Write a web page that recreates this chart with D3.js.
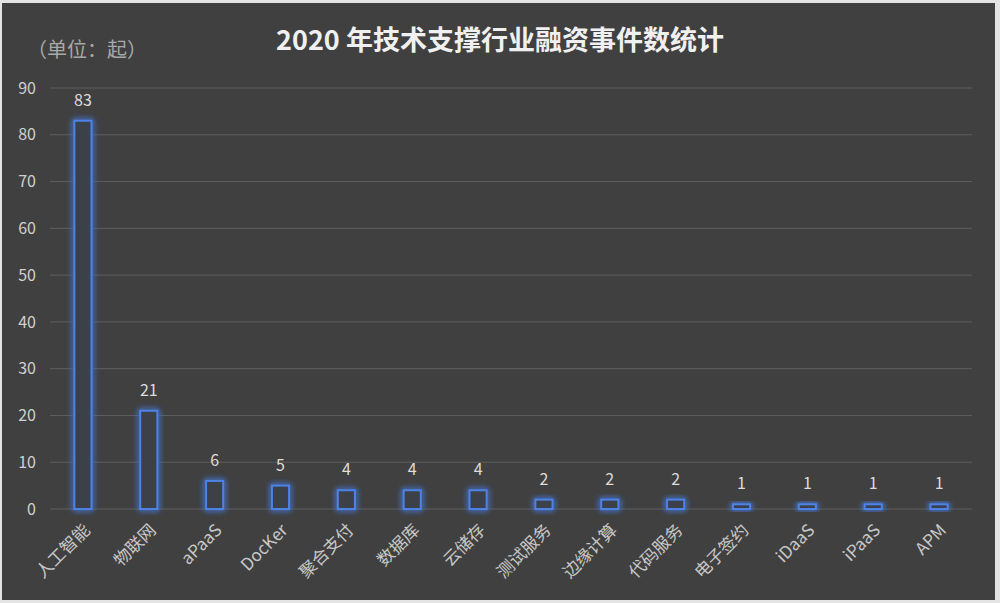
<!DOCTYPE html>
<html>
<head>
<meta charset="utf-8">
<script src="https://cdn.jsdelivr.net/npm/d3@7"></script>
<style>
  body { margin: 0; background: #e6e6e6; }
  svg { display: block; }
</style>
</head>
<body>
<svg id="chart" width="1000" height="603"></svg>
<script>
// data
const categories = ["人工智能", "物联网", "aPaaS", "DocKer", "聚合支付", "数据库", "云储存",
  "测试服务", "边缘计算", "代码服务", "电子签约", "iDaaS", "iPaaS", "APM"];
const counts = [83, 21, 6, 5, 4, 4, 4, 2, 2, 2, 1, 1, 1, 1];
const yTicks = [0, 10, 20, 30, 40, 50, 60, 70, 80, 90];
const title = "2020 年技术支撑行业融资事件数统计";
const unitLabel = "（单位：起）";

const svg = d3.select("#chart");
const width = +svg.attr("width");
const height = +svg.attr("height");
const font = "'Noto Sans CJK SC', 'Noto Sans', sans-serif";

// frame + background
svg.append("rect").attr("width", width).attr("height", height).attr("fill", "#e4e4e4");
svg.append("rect").attr("x", 2).attr("y", 3).attr("width", width - 7).attr("height", height - 6)
  .attr("fill", "#404040");

const margin = { top: 88, right: 28, bottom: 94, left: 50 };
const chartWidth = width - margin.left - margin.right;
const chartHeight = height - margin.top - margin.bottom;

const x = d3.scaleBand().domain(categories).range([0, chartWidth])
  .paddingInner(0.74).paddingOuter(0.37);
const y = d3.scaleLinear().domain([0, 90]).range([chartHeight, 0]);

const defs = svg.append("defs");
const glow = defs.append("filter").attr("id", "glow")
  .attr("x", "-60%").attr("y", "-60%").attr("width", "220%").attr("height", "220%");
glow.append("feGaussianBlur").attr("in", "SourceGraphic").attr("stdDeviation", 3).attr("result", "b");
const merge = glow.append("feMerge");
merge.append("feMergeNode").attr("in", "b");
merge.append("feMergeNode").attr("in", "b");
merge.append("feMergeNode").attr("in", "SourceGraphic");

const chart = svg.append("g").attr("transform", `translate(${margin.left},${margin.top})`);

// grid lines
chart.append("g")
  .selectAll("line")
  .data(yTicks)
  .enter()
  .append("line")
  .attr("x1", 0).attr("x2", chartWidth)
  .attr("y1", d => y(d)).attr("y2", d => y(d))
  .attr("stroke", "#5e5e5e").attr("stroke-width", 1);

// Y axis labels
const yAxis = chart.append("g").call(d3.axisLeft(y).tickValues(yTicks).tickSize(0).tickPadding(14));
yAxis.select(".domain").remove();
yAxis.selectAll("text").attr("fill", "#d0d0d0").style("font-size", "16px").style("font-family", font);

// Bars
const data = categories.map((c, i) => ({ item: c, value: counts[i] }));
chart.selectAll("rect.bar")
  .data(data)
  .enter()
  .append("rect")
  .attr("class", "bar")
  .attr("x", d => x(d.item))
  .attr("y", d => y(d.value))
  .attr("width", x.bandwidth())
  .attr("height", d => chartHeight - y(d.value))
  .attr("fill", "#3a3f4a")
  .attr("stroke", "#4d82e6")
  .attr("stroke-width", 2)
  .attr("filter", "url(#glow)");

// value labels
chart.selectAll("text.value")
  .data(data)
  .enter()
  .append("text")
  .attr("class", "value")
  .attr("x", d => x(d.item) + x.bandwidth() / 2)
  .attr("y", d => y(d.value) - 15)
  .attr("text-anchor", "middle")
  .attr("fill", "#dcdcdc")
  .style("font-size", "16px")
  .style("font-family", font)
  .text(d => d.value);

// X axis labels
const xAxis = chart.append("g")
  .attr("transform", `translate(0,${chartHeight})`)
  .call(d3.axisBottom(x).tickSize(0).tickPadding(0));
xAxis.select(".domain").remove();
xAxis.selectAll("text")
  .attr("fill", "#c8c8c8")
  .style("font-size", "17px")
  .style("font-family", font)
  .attr("text-anchor", "end")
  .attr("dy", "0.35em")
  .attr("transform", "translate(4,18) rotate(-45)");

// title + unit
svg.append("text")
  .attr("x", 500).attr("y", 50)
  .attr("text-anchor", "middle")
  .attr("fill", "#f0f0f0")
  .style("font-size", "27px")
  .style("font-weight", "bold")
  .style("font-family", font)
  .text(title);

svg.append("text")
  .attr("x", 27).attr("y", 57)
  .attr("fill", "#a8a8a8")
  .style("font-size", "20px")
  .style("font-family", font)
  .text(unitLabel);
</script>
</body>
</html>
